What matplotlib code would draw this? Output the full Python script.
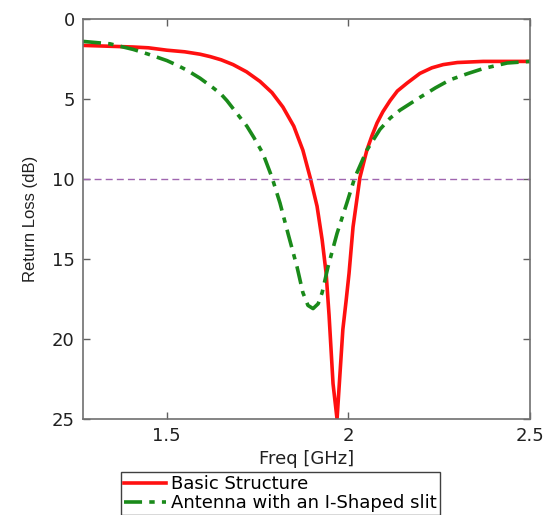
import matplotlib
matplotlib.use('Agg')
import matplotlib.pyplot as plt

plt.rcParams['font.family'] = ['DejaVu Sans']

# Basic structure (solid red)
basic_freq = [1.270, 1.408, 1.450, 1.501, 1.550, 1.592, 1.620, 1.650, 1.683, 1.720,
              1.757, 1.790, 1.820, 1.850, 1.875, 1.895, 1.914, 1.928, 1.939, 1.947,
              1.958, 1.969, 1.985, 1.994, 2.002, 2.013, 2.032, 2.051, 2.065, 2.079,
              2.095, 2.115, 2.135, 2.162, 2.197, 2.230, 2.261, 2.300, 2.371, 2.437, 2.500]
basic_rl = [1.65, 1.75, 1.8, 1.95, 2.05, 2.2, 2.35, 2.55, 2.85, 3.3,
            3.9, 4.6, 5.5, 6.7, 8.2, 9.9, 11.7, 13.8, 15.9, 18.5,
            22.8, 25.0, 19.4, 17.6, 15.9, 13.0, 9.9, 8.2, 7.3, 6.5,
            5.8, 5.1, 4.5, 4.0, 3.4, 3.05, 2.85, 2.72, 2.65, 2.65, 2.65]

# Antenna with I-shaped slit (green dash-dot)
slit_freq = [1.270, 1.344, 1.408, 1.450, 1.501, 1.530, 1.556, 1.592, 1.628, 1.650,
             1.666, 1.690, 1.721, 1.740, 1.765, 1.790, 1.812, 1.834, 1.859, 1.875,
             1.889, 1.903, 1.917, 1.928, 1.944, 1.969, 1.996, 2.018, 2.051, 2.087,
             2.115, 2.142, 2.197, 2.240, 2.280, 2.330, 2.371, 2.437, 2.500]
slit_rl = [1.4, 1.55, 1.9, 2.2, 2.6, 2.9, 3.2, 3.7, 4.3, 4.7,
           5.1, 5.8, 6.7, 7.4, 8.4, 9.9, 11.5, 13.4, 15.5, 17.1,
           17.9, 18.1, 17.8, 17.1, 15.5, 13.4, 11.5, 9.9, 8.2, 6.9,
           6.2, 5.7, 4.9, 4.3, 3.8, 3.4, 3.1, 2.75, 2.65]

threshold_db = 10
x_ticks = [1.5, 2, 2.5]
y_ticks = [0, 5, 10, 15, 20, 25]

fig = plt.figure(figsize=(5.47, 5.15), dpi=100)
ax = fig.add_axes([0.1517, 0.1864, 0.8173, 0.7767])

ax.plot(basic_freq, basic_rl, color='#ff1010', linewidth=2.6, label='Basic Structure')
ax.plot(slit_freq, slit_rl, color='#1a8a1a', linewidth=2.6, linestyle='-.',
        dashes=(5, 2, 1.5, 2), label='Antenna with an I-Shaped slit')
ax.axhline(threshold_db, color='#a066b0', linewidth=1.0, linestyle=(0, (5, 3)))

ax.set_xlim(1.27, 2.5)
ax.set_ylim(25, 0)
ax.set_xticks(x_ticks)
ax.set_xticklabels(['1.5', '2', '2.5'])
ax.set_yticks(y_ticks)

for side in ax.spines.values():
    side.set_color('#707070')
    side.set_linewidth(1.2)
ax.tick_params(direction='in', top=True, right=True, length=5, width=1,
               color='#606060', labelsize=13, labelcolor='#202020', pad=6)

ax.set_xlabel('Freq [GHz]', fontsize=13, color='#202020', labelpad=3)
ax.set_ylabel('Return Loss (dB)', fontsize=12,
              family=['Liberation Sans Narrow', 'Liberation Sans'],
              color='#202020', labelpad=10)

fig.legend(loc='upper left', bbox_to_anchor=(0.222, 0.083), borderaxespad=0,
           fontsize=13, frameon=True, fancybox=False, edgecolor='#404040',
           framealpha=1, borderpad=0.15, handlelength=2.3, handletextpad=0.3,
           labelspacing=0.05)

fig.savefig('out.png', dpi=100)
